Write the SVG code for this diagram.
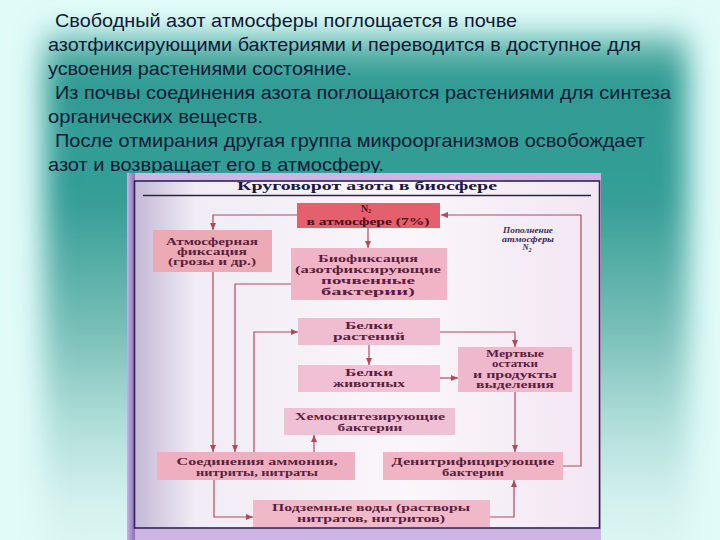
<svg xmlns="http://www.w3.org/2000/svg" width="720" height="540" viewBox="0 0 720 540">
  <defs>
    <linearGradient id="teal" x1="0" y1="0" x2="0" y2="1">
      <stop offset="0" stop-color="#8fd0c9"/>
      <stop offset="0.07" stop-color="#2e9b93"/>
      <stop offset="0.3" stop-color="#349e96"/>
      <stop offset="0.52" stop-color="#74bdb6"/>
      <stop offset="0.7" stop-color="#b0ded9"/>
      <stop offset="0.85" stop-color="#d6f2ef"/>
      <stop offset="1" stop-color="#e0faf7"/>
    </linearGradient>
    <filter id="soft" x="-0.1" y="-0.1" width="1.2" height="1.2">
      <feGaussianBlur stdDeviation="14"/>
    </filter>
    <linearGradient id="frameL" x1="0" y1="0" x2="1" y2="0">
      <stop offset="0" stop-color="#c9b0e4"/>
      <stop offset="1" stop-color="#8a70b4"/>
    </linearGradient>
    <linearGradient id="paper" x1="0" y1="0" x2="1" y2="0">
      <stop offset="0" stop-color="#c4b8d6"/>
      <stop offset="0.13" stop-color="#f1ecf5"/>
      <stop offset="0.6" stop-color="#faf6fa"/>
      <stop offset="1" stop-color="#f2e6f2"/>
    </linearGradient>
    <marker id="arr" markerUnits="userSpaceOnUse" markerWidth="7" markerHeight="6" refX="7" refY="3" orient="auto">
      <path d="M0,0 L7,3 L0,6 z" fill="#b04a5a"/>
    </marker>
    <style>
      .slide { font-family: "Liberation Sans", "DejaVu Sans", sans-serif; font-size: 19px; fill: #0e1a36; }
      .box { stroke: none; }
      .lbl { font-family: "Liberation Serif", "DejaVu Serif", serif; font-weight: bold; font-size: 10px; fill: #5a1f3e; text-anchor: middle; }
      .ttl { font-family: "Liberation Serif", "DejaVu Serif", serif; font-weight: bold; font-size: 12px; fill: #1c1a3c; text-anchor: middle; }
      .ital { font-family: "Liberation Serif", "DejaVu Serif", serif; font-style: italic; font-weight: bold; font-size: 8.5px; fill: #3a2a50; text-anchor: middle; }
      .con { fill: none; stroke: #b04a5a; stroke-width: 1.2; marker-end: url(#arr); }
    </style>
  </defs>

  <!-- slide background -->
  <rect x="0" y="0" width="720" height="540" fill="#e0fbf8"/>
  <rect x="44" y="32" width="644" height="560" fill="url(#teal)" filter="url(#soft)"/>

  <!-- slide text -->
  <g id="slide-text" class="slide">
    <text x="55" y="27" textLength="462" lengthAdjust="spacingAndGlyphs">Свободный азот атмосферы поглощается в почве</text>
    <text x="48" y="51" textLength="593" lengthAdjust="spacingAndGlyphs">азотфиксирующими бактериями и переводится в доступное для</text>
    <text x="48" y="75" textLength="304" lengthAdjust="spacingAndGlyphs">усвоения растениями состояние.</text>
    <text x="55" y="99" textLength="616" lengthAdjust="spacingAndGlyphs">Из почвы соединения азота поглощаются растениями для синтеза</text>
    <text x="48" y="123" textLength="215" lengthAdjust="spacingAndGlyphs">органических веществ.</text>
    <text x="55" y="147" textLength="590" lengthAdjust="spacingAndGlyphs">После отмирания другая группа микроорганизмов освобождает</text>
    <text x="48" y="171" textLength="336" lengthAdjust="spacingAndGlyphs">азот и возвращает его в атмосферу.</text>
  </g>

  <!-- scanned picture frame -->
  <g id="frame">
    <rect x="127" y="173" width="474" height="367" fill="#cdb6e6"/>
    <rect x="127" y="173" width="8" height="367" fill="url(#frameL)"/>
    <rect x="134.5" y="181" width="465" height="347" fill="url(#paper)" stroke="#2c2656" stroke-width="1.6"/>
    <text class="ttl" x="367" y="190" textLength="260" lengthAdjust="spacingAndGlyphs">Круговорот азота в биосфере</text>
    <line x1="143" y1="195.5" x2="591" y2="195.5" stroke="#2a2440" stroke-width="1.3"/>
  </g>

  <!-- connectors -->
  <g id="connectors">
    <path class="con" d="M297,215 H213 V230"/>
    <path class="con" d="M368,228 V248"/>
    <path class="con" d="M563,466 H581 V215 H441"/>
    <path class="con" d="M213,272 V452"/>
    <path class="con" d="M292,284 H235 V452"/>
    <path class="con" d="M254,452 V332 H298"/>
    <path class="con" d="M369,345 V365"/>
    <path class="con" d="M440,332 H515 V347"/>
    <path class="con" d="M440,378 H458"/>
    <path class="con" d="M515,392 V452"/>
    <path class="con" d="M314,452 V435"/>
    <path class="con" d="M214,480 V517 H253"/>
    <path class="con" d="M490,517 H514 V480"/>
  </g>

  <!-- nodes -->
  <g id="n2">
    <rect class="box" x="297" y="203" width="143" height="25" fill="#e4606c"/>
    <text class="lbl" x="366" y="212" style="fill:#4a1020">N<tspan font-size="6" dy="1">2</tspan></text>
    <text class="lbl" x="368" y="224.5" textLength="123" lengthAdjust="spacingAndGlyphs" style="fill:#4a1020">в атмосфере (7%)</text>
  </g>

  <g id="atm-fix">
    <rect class="box" x="153" y="230" width="119" height="42" fill="#ecaab4"/>
    <text class="lbl" x="212" y="245" textLength="92" lengthAdjust="spacingAndGlyphs">Атмосферная</text>
    <text class="lbl" x="212" y="255" textLength="70" lengthAdjust="spacingAndGlyphs">фиксация</text>
    <text class="lbl" x="212" y="265" textLength="88" lengthAdjust="spacingAndGlyphs">(грозы и др.)</text>
  </g>

  <g id="replenish">
    <text class="ital" x="528" y="233" textLength="50" lengthAdjust="spacingAndGlyphs">Пополнение</text>
    <text class="ital" x="528" y="241.5" textLength="52" lengthAdjust="spacingAndGlyphs">атмосферы</text>
    <text class="ital" x="527" y="250">N<tspan font-size="6" dy="1.5">2</tspan></text>
  </g>

  <g id="biofix">
    <rect class="box" x="291" y="248" width="156" height="52" fill="#f1b4c6"/>
    <text class="lbl" x="368" y="262" textLength="100" lengthAdjust="spacingAndGlyphs">Биофиксация</text>
    <text class="lbl" x="368" y="273" textLength="146" lengthAdjust="spacingAndGlyphs">(азотфиксирующие</text>
    <text class="lbl" x="368" y="284" textLength="94" lengthAdjust="spacingAndGlyphs">почвенные</text>
    <text class="lbl" x="368" y="295" textLength="94" lengthAdjust="spacingAndGlyphs">бактерии)</text>
  </g>

  <g id="plant-protein">
    <rect class="box" x="298" y="318" width="142" height="27" fill="#f0bcd0"/>
    <text class="lbl" x="369" y="329" textLength="48" lengthAdjust="spacingAndGlyphs">Белки</text>
    <text class="lbl" x="369" y="340" textLength="72" lengthAdjust="spacingAndGlyphs">растений</text>
  </g>

  <g id="animal-protein">
    <rect class="box" x="298" y="365" width="142" height="27" fill="#f2c0d4"/>
    <text class="lbl" x="369" y="376" textLength="48" lengthAdjust="spacingAndGlyphs">Белки</text>
    <text class="lbl" x="369" y="387" textLength="72" lengthAdjust="spacingAndGlyphs">животных</text>
  </g>

  <g id="dead-remains">
    <rect class="box" x="458" y="347" width="114" height="45" fill="#f0b8cc"/>
    <text class="lbl" x="515" y="357" textLength="58" lengthAdjust="spacingAndGlyphs">Мертвые</text>
    <text class="lbl" x="515" y="367" textLength="46" lengthAdjust="spacingAndGlyphs">остатки</text>
    <text class="lbl" x="515" y="378" textLength="84" lengthAdjust="spacingAndGlyphs">и продукты</text>
    <text class="lbl" x="515" y="388" textLength="78" lengthAdjust="spacingAndGlyphs">выделения</text>
  </g>

  <g id="chemosynth">
    <rect class="box" x="284" y="408" width="171" height="27" fill="#f0c0d4"/>
    <text class="lbl" x="370" y="420" textLength="150" lengthAdjust="spacingAndGlyphs">Хемосинтезирующие</text>
    <text class="lbl" x="370" y="431" textLength="65" lengthAdjust="spacingAndGlyphs">бактерии</text>
  </g>

  <g id="ammonium">
    <rect class="box" x="157" y="452" width="198" height="28" fill="#eeb0c0"/>
    <text class="lbl" x="257" y="465" textLength="161" lengthAdjust="spacingAndGlyphs">Соединения аммония,</text>
    <text class="lbl" x="257" y="476" textLength="122" lengthAdjust="spacingAndGlyphs">нитриты, нитраты</text>
  </g>

  <g id="denitrif">
    <rect class="box" x="383" y="452" width="180" height="28" fill="#f0b4c4"/>
    <text class="lbl" x="473" y="465" textLength="163" lengthAdjust="spacingAndGlyphs">Денитрифицирующие</text>
    <text class="lbl" x="473" y="476" textLength="62" lengthAdjust="spacingAndGlyphs">бактерии</text>
  </g>

  <g id="groundwater">
    <rect class="box" x="253" y="500" width="237" height="27" fill="#f0b8c8"/>
    <text class="lbl" x="371" y="511" textLength="198" lengthAdjust="spacingAndGlyphs">Подземные воды (растворы</text>
    <text class="lbl" x="371" y="522" textLength="148" lengthAdjust="spacingAndGlyphs">нитратов, нитритов)</text>
  </g>
</svg>
